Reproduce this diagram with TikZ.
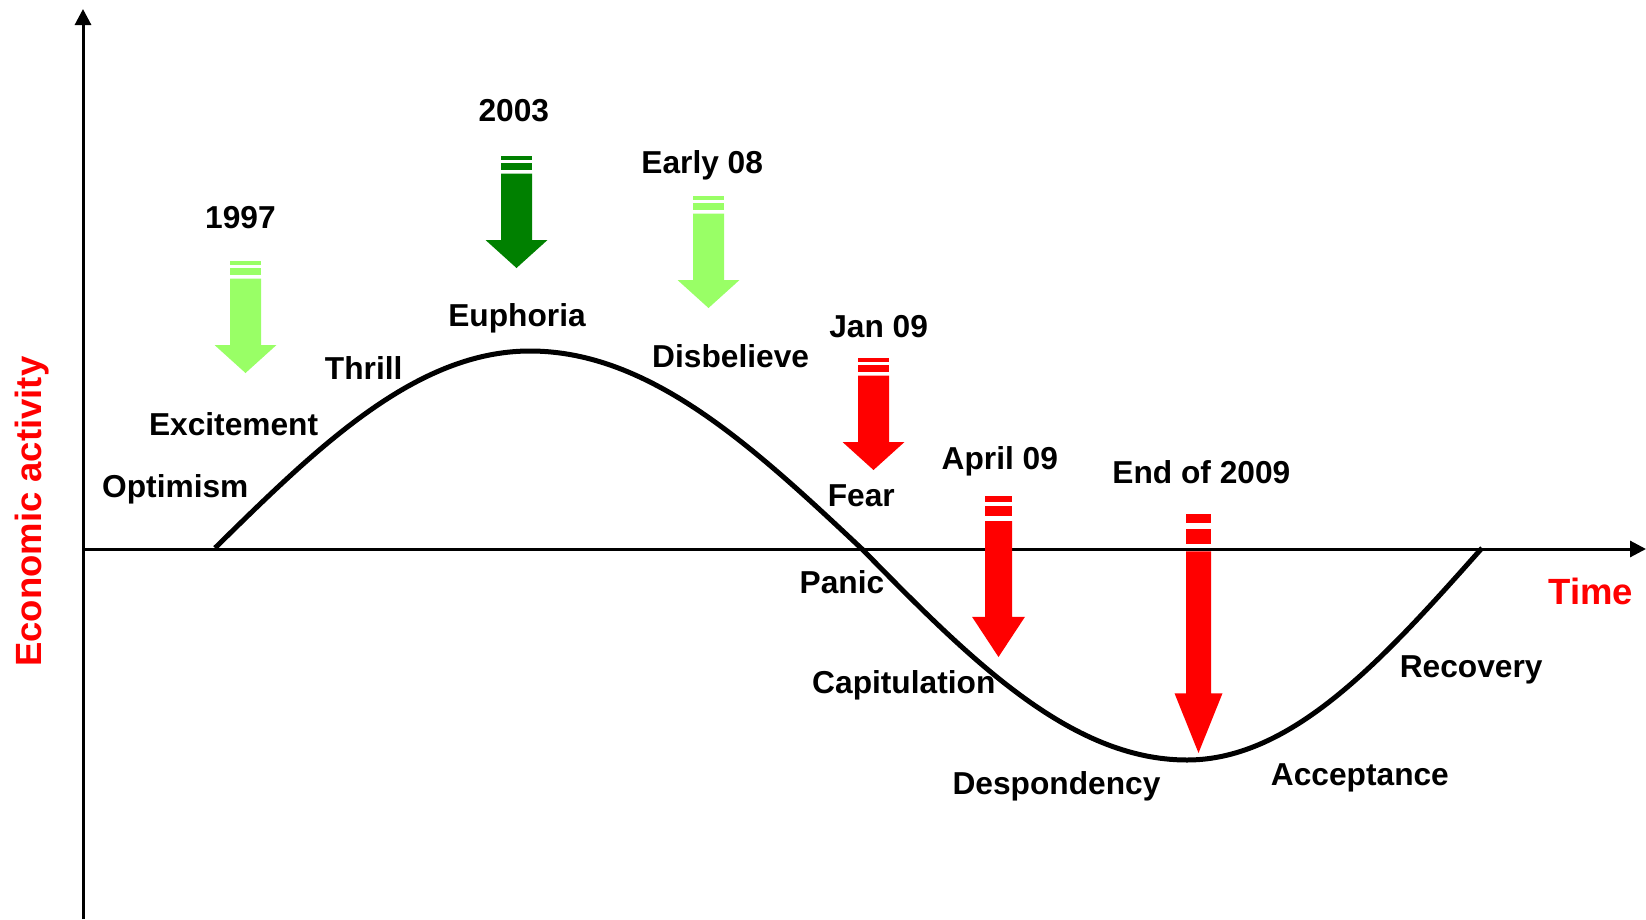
\documentclass[tikz,border=0pt]{standalone}
\usepackage{fontspec}
\setmainfont{Liberation Sans}
\usetikzlibrary{arrows.meta}

\definecolor{lightgreen}{HTML}{99FF66}
\definecolor{darkgreen}{HTML}{008000}
\definecolor{alarmred}{HTML}{FF0000}

% striped block arrow: colour, centre x, top y, length, shaft half width, head half width
\newcommand{\stripedarrow}[6]{%
  \begin{scope}[shift={(#2,#3)},yscale=#4/112]
    \fill[#1] (-#5,0) rectangle (#5,4);
    \fill[#1] (-#5,7) rectangle (#5,14);
    \fill[#1] (-#5,17.5) -- (#5,17.5) -- (#5,84) -- (#6,84) -- (0,112)
      -- (-#6,84) -- (-#5,84) -- cycle;
  \end{scope}}

\begin{document}
\begin{tikzpicture}[x=1pt,y=-1pt,
    stage/.style={font=\fontsize{31.7}{38}\selectfont\bfseries,inner sep=0pt,anchor=base},
    axistitle/.style={font=\fontsize{36.5}{44}\selectfont\bfseries,text=alarmred,inner sep=0pt,anchor=base},
    axis/.style={line width=3pt,-{Triangle[length=16pt,width=16pt]}},
    cycleline/.style={line width=5pt}]
    \useasboundingbox (0,0) rectangle (1646,919);
    % axes
    \coordinate (ybot) at (83,919);
    \coordinate (ytop) at (83,9);
    \coordinate (xleft) at (83,549);
    \coordinate (xright) at (1646,549);
    \draw[axis] (ybot) -- (ytop);
    \draw[axis] (xleft) -- (xright);
    \node[axistitle,rotate=90] (econ) at (41,511.7) {Economic activity};
    \node[axistitle] (time) at (1590.8,604.6) {Time};
    % cycle
    \coordinate (start) at (215,548);
    \coordinate (peak) at (530,351);
    \coordinate (cross) at (862,549);
    \coordinate (trough) at (1187,760);
    \coordinate (finish) at (1482,548);
    \draw[cycleline] (start) .. controls (317.7,446.9) and (416,351) .. (peak)
      .. controls (650.2,351) and (753.8,447.4) .. (cross)
      .. controls (968,657.2) and (1069.4,760) .. (trough)
      .. controls (1293.4,760) and (1385.2,656.8) .. (finish);
    % arrows
    \stripedarrow{lightgreen}{245.5}{261}{112}{15.5}{31}
    \stripedarrow{darkgreen}{516.5}{156}{112}{15.5}{31}
    \stripedarrow{lightgreen}{708.5}{196}{112}{15.5}{31}
    \stripedarrow{alarmred}{873.5}{358}{112}{15.5}{31}
    \stripedarrow{alarmred}{998.5}{496}{161}{13.5}{26.5}
    \stripedarrow{alarmred}{1198.5}{514}{239}{12.5}{24}
    % dates
    \node[stage] (y1997) at (240.4,228.8) {1997};
    \node[stage] (y2003) at (513.8,121.8) {2003};
    \node[stage] (early08) at (702.2,173.2) {Early 08};
    \node[stage] (jan09) at (878.6,337) {Jan 09};
    \node[stage] (apr09) at (999.8,469.2) {April 09};
    \node[stage] (end2009) at (1201.4,483.9) {End of 2009};
    % stages
    \node[stage] (optimism) at (175.3,497.6) {Optimism};
    \node[stage] (excitement) at (233.6,435.6) {Excitement};
    \node[stage] (thrill) at (363.7,379) {Thrill};
    \node[stage] (euphoria) at (517,326.5) {Euphoria};
    \node[stage] (disbelieve) at (730.6,367.4) {Disbelieve};
    \node[stage] (fear) at (861.3,506) {Fear};
    \node[stage] (panic) at (841.9,593) {Panic};
    \node[stage] (capitulation) at (903.8,693.9) {Capitulation};
    \node[stage] (despondency) at (1056.5,794.6) {Despondency};
    \node[stage] (acceptance) at (1359.9,785.2) {Acceptance};
    \node[stage] (recovery) at (1471.2,677) {Recovery};
\end{tikzpicture}
\end{document}
